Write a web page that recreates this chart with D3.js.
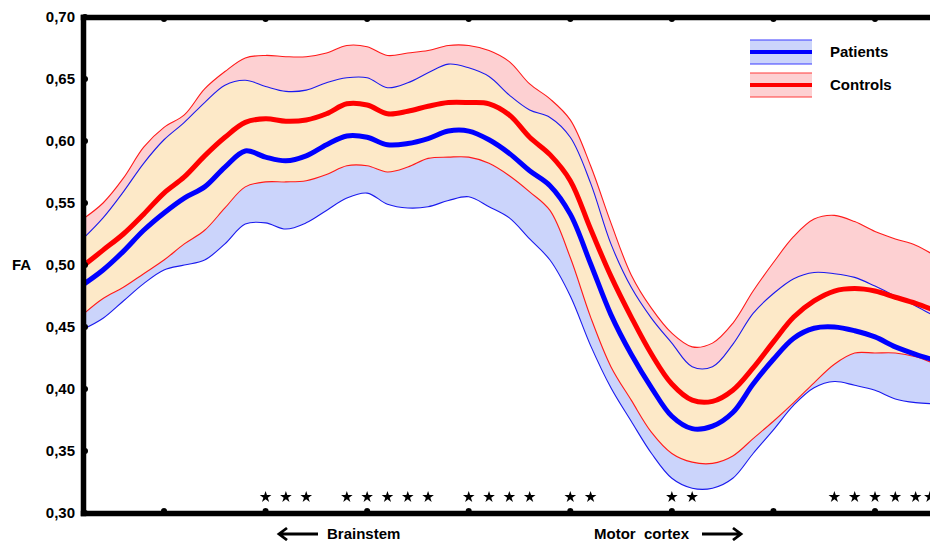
<!DOCTYPE html>
<html>
<head>
<meta charset="utf-8">
<script src="https://cdn.jsdelivr.net/npm/d3@7"></script>
<style>
  html, body { margin: 0; padding: 0; background: #fff; }
  svg { display: block; font-family: "Liberation Sans", Arial, sans-serif; }
  text { font-weight: bold; }
</style>
</head>
<body>
<div id="chart"></div>
<script>
// position along the tract (arbitrary units, ticks every 10)
const positions = [2, 4, 6, 8, 10, 12, 14, 16, 18, 20, 22, 24, 26, 28, 30, 32, 34, 36, 38, 40, 42, 44,
  46, 48, 50, 52, 54, 56, 58, 60, 62, 64, 66, 68, 70, 72, 74, 76, 78, 80, 82, 84, 86];

const controlsUpper = [0.537, 0.550, 0.570, 0.595, 0.611, 0.621, 0.642, 0.656, 0.667, 0.669, 0.668, 0.668,
  0.671, 0.677, 0.676, 0.669, 0.671, 0.673, 0.677, 0.677, 0.673, 0.664, 0.646, 0.634, 0.617, 0.580, 0.534,
  0.492, 0.465, 0.445, 0.434, 0.437, 0.453, 0.479, 0.502, 0.523, 0.537, 0.540, 0.535, 0.527, 0.521, 0.516, 0.507];
const controlsMean = [0.499, 0.512, 0.525, 0.541, 0.558, 0.571, 0.588, 0.603, 0.615, 0.618, 0.616, 0.617,
  0.622, 0.630, 0.629, 0.622, 0.624, 0.628, 0.631, 0.631, 0.630, 0.621, 0.603, 0.589, 0.568, 0.529, 0.491,
  0.458, 0.428, 0.404, 0.391, 0.390, 0.399, 0.417, 0.438, 0.458, 0.471, 0.479, 0.481, 0.479, 0.474, 0.469, 0.463];
const controlsLower = [0.460, 0.473, 0.482, 0.493, 0.504, 0.517, 0.528, 0.546, 0.563, 0.567, 0.567, 0.568,
  0.573, 0.580, 0.580, 0.575, 0.579, 0.586, 0.587, 0.587, 0.582, 0.572, 0.559, 0.544, 0.506, 0.458, 0.418,
  0.391, 0.365, 0.348, 0.341, 0.340, 0.346, 0.360, 0.374, 0.389, 0.405, 0.420, 0.429, 0.429, 0.429, 0.426, 0.420];

const patientsUpper = [0.521, 0.538, 0.559, 0.582, 0.601, 0.615, 0.631, 0.645, 0.649, 0.644, 0.640, 0.641,
  0.647, 0.651, 0.651, 0.643, 0.647, 0.655, 0.662, 0.659, 0.652, 0.637, 0.625, 0.619, 0.603, 0.566, 0.517,
  0.482, 0.457, 0.437, 0.418, 0.418, 0.436, 0.461, 0.477, 0.489, 0.494, 0.493, 0.490, 0.483, 0.475, 0.467, 0.458];
const patientsMean = [0.484, 0.496, 0.511, 0.528, 0.542, 0.554, 0.563, 0.579, 0.592, 0.587, 0.584, 0.588,
  0.597, 0.604, 0.603, 0.597, 0.598, 0.602, 0.608, 0.608, 0.601, 0.590, 0.576, 0.564, 0.541, 0.501, 0.460,
  0.428, 0.401, 0.378, 0.368, 0.370, 0.381, 0.404, 0.424, 0.441, 0.449, 0.450, 0.447, 0.442, 0.434, 0.428, 0.423];
const patientsLower = [0.448, 0.457, 0.471, 0.485, 0.496, 0.500, 0.504, 0.517, 0.533, 0.534, 0.529, 0.534,
  0.544, 0.554, 0.558, 0.549, 0.546, 0.547, 0.552, 0.555, 0.547, 0.538, 0.521, 0.504, 0.475, 0.435, 0.401,
  0.374, 0.348, 0.328, 0.320, 0.320, 0.328, 0.348, 0.367, 0.387, 0.401, 0.406, 0.403, 0.399, 0.392, 0.389, 0.388];

const yTicks = [0.30, 0.35, 0.40, 0.45, 0.50, 0.55, 0.60, 0.65, 0.70];
const xTicks = [10, 20, 30, 40, 50, 60, 70, 80];
// significant positions (*)
const starPositions = [20, 22, 24, 28, 30, 32, 34, 36, 40, 42, 44, 46, 50, 52, 60, 62, 76, 78, 80, 82, 84, 85.4];

const W = 930, H = 541;
const margin = { left: 83, top: 17, bottom: 513, right: 945 };

const svg = d3.select("#chart").append("svg")
  .attr("width", W)
  .attr("height", H);

const x = d3.scaleLinear().domain([10, 80]).range([164, 875]);
const y = d3.scaleLinear().domain([0.30, 0.70]).range([margin.bottom, margin.top]);
const xAxisScale = x.copy().domain([x.invert(margin.left), x.invert(margin.right)]).range([margin.left, margin.right]);

const rows = positions.map((p, i) => ({
  p: p,
  cu: controlsUpper[i], cm: controlsMean[i], cl: controlsLower[i],
  pu: patientsUpper[i], pm: patientsMean[i], pl: patientsLower[i]
}));

const curve = d3.curveCatmullRom.alpha(0.5);
const area = (lo, hi) => d3.area().x(d => x(d.p)).y0(d => y(d[lo])).y1(d => y(d[hi])).curve(curve);
const line = key => d3.line().x(d => x(d.p)).y(d => y(d[key])).curve(curve);

const defs = svg.append("defs");
defs.append("clipPath").attr("id", "plotClip")
  .append("rect").attr("x", margin.left).attr("y", margin.top)
  .attr("width", W - margin.left).attr("height", margin.bottom - margin.top);
defs.append("clipPath").attr("id", "ctrlClip")
  .append("path").attr("d", area("cl", "cu")(rows));

const plot = svg.append("g").attr("clip-path", "url(#plotClip)");

// bands
plot.append("path").attr("d", area("pl", "pu")(rows)).attr("fill", "#cbd4fb");
plot.append("path").attr("d", area("cl", "cu")(rows)).attr("fill", "#fdd0d2");
plot.append("g").attr("clip-path", "url(#ctrlClip)")
  .append("path").attr("d", area("pl", "pu")(rows)).attr("fill", "#fde9c8");

// band edges
[["cu", "#ff1a1a"], ["cl", "#ff1a1a"], ["pu", "#1a1aee"], ["pl", "#1a1aee"]].forEach(([k, c]) => {
  plot.append("path").attr("d", line(k)(rows))
    .attr("fill", "none").attr("stroke", c).attr("stroke-width", 1.1);
});

// means
plot.append("path").attr("d", line("cm")(rows))
  .attr("fill", "none").attr("stroke", "#ff0000").attr("stroke-width", 5);
plot.append("path").attr("d", line("pm")(rows))
  .attr("fill", "none").attr("stroke", "#0000ff").attr("stroke-width", 5);

// stars
svg.append("g").selectAll("path.star")
  .data(starPositions)
  .join("path")
  .attr("class", "star")
  .attr("transform", d => `translate(${x(d)},497)`)
  .attr("d", d3.symbol(d3.symbolStar).size(42))
  .attr("fill", "#000");

// axes
const yAxis = svg.append("g")
  .attr("transform", `translate(${margin.left},0)`)
  .call(d3.axisLeft(y).tickValues(yTicks).tickSize(0).tickPadding(8)
    .tickFormat(d => d.toFixed(2).replace(".", ",")));
yAxis.selectAll("text").attr("font-size", 15).attr("fill", "#000");

svg.append("g")
  .attr("transform", `translate(0,${margin.bottom})`)
  .call(d3.axisBottom(xAxisScale).tickValues(xTicks).tickSize(0).tickFormat(""));
svg.append("g")
  .attr("transform", `translate(0,${margin.top})`)
  .call(d3.axisTop(xAxisScale).tickValues(xTicks).tickSize(0).tickFormat(""));

svg.selectAll(".domain")
  .attr("stroke", "#000").attr("stroke-width", 5.5).attr("stroke-linecap", "square");

// tick dots
svg.append("g").selectAll("circle")
  .data(yTicks).join("circle")
  .attr("cx", margin.left + 2).attr("cy", d => y(d)).attr("r", 3).attr("fill", "#000");
svg.append("g").selectAll("circle")
  .data(xTicks).join("circle")
  .attr("cx", d => x(d)).attr("cy", margin.bottom - 2).attr("r", 3).attr("fill", "#000");
svg.append("g").selectAll("circle")
  .data(xTicks).join("circle")
  .attr("cx", d => x(d)).attr("cy", margin.top + 2).attr("r", 3).attr("fill", "#000");

// axis title
svg.append("text").attr("x", 12).attr("y", y(0.50)).attr("dy", "0.35em")
  .attr("font-size", 15).text("FA");

// bottom labels with arrows
const arrowY = 534;
svg.append("path")
  .attr("d", `M279,${arrowY}H318M287,${arrowY - 6}L279,${arrowY}L287,${arrowY + 6}`)
  .attr("fill", "none").attr("stroke", "#000").attr("stroke-width", 2.8);
svg.append("text").attr("x", 327).attr("y", arrowY).attr("dy", "0.35em")
  .attr("font-size", 15).text("Brainstem");
svg.append("text").attr("x", 594).attr("y", arrowY).attr("dy", "0.35em")
  .attr("font-size", 15).style("white-space", "pre").text("Motor  cortex");
svg.append("path")
  .attr("d", `M702,${arrowY}H741M733,${arrowY - 6}L741,${arrowY}L733,${arrowY + 6}`)
  .attr("fill", "none").attr("stroke", "#000").attr("stroke-width", 2.8);

// legend
const legendItems = [
  { name: "Patients", fill: "#cbd4fb", edge: "#3a3aff", main: "#0000ff", cy: 52 },
  { name: "Controls", fill: "#fdd0d2", edge: "#ff3a3a", main: "#ff0000", cy: 85 }
];
const legend = svg.append("g");
legendItems.forEach(it => {
  legend.append("rect").attr("x", 750).attr("y", it.cy - 12).attr("width", 62).attr("height", 24)
    .attr("fill", it.fill);
  [-12, 12].forEach(o => legend.append("line")
    .attr("x1", 750).attr("x2", 812).attr("y1", it.cy + o).attr("y2", it.cy + o)
    .attr("stroke", it.edge).attr("stroke-width", 1.2));
  legend.append("line").attr("x1", 750).attr("x2", 812).attr("y1", it.cy).attr("y2", it.cy)
    .attr("stroke", it.main).attr("stroke-width", 4);
  legend.append("text").attr("x", 830).attr("y", it.cy).attr("dy", "0.35em")
    .attr("font-size", 15).text(it.name);
});
</script>
</body>
</html>
